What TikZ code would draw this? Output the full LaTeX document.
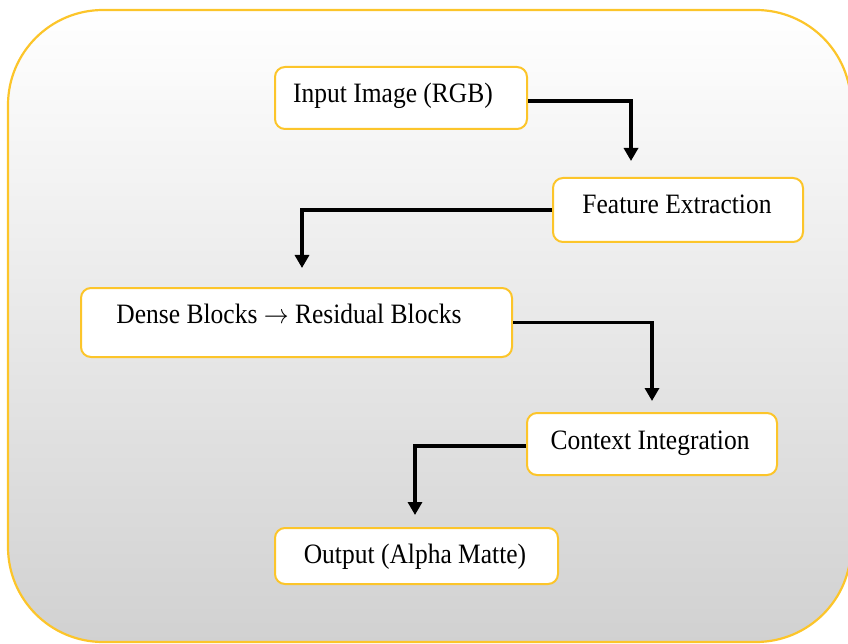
\documentclass[tikz,border=0pt]{standalone}
\usepackage{fontspec}
\setmainfont{Liberation Serif}
\usetikzlibrary{arrows.meta}
\definecolor{frameyellow}{HTML}{FCC52A}
\newcommand{\tallcap}[1]{\scalebox{1}[1.1]{#1}}
\begin{document}
\begin{tikzpicture}[x=1pt,y=-1pt,
  stage/.style={draw=frameyellow, line width=2pt, fill=white, rounded corners=10pt, inner sep=0pt},
  caption/.style={font=\fontsize{25.5}{30}\selectfont, anchor=base, inner sep=0pt},
  flow/.style={line width=3.2pt, -{Triangle[width=14pt,length=13pt]}}]
\useasboundingbox (0,0) rectangle (848,644);
% background panel
\shade[top color=white, bottom color=gray!36, draw=frameyellow, line width=2.2pt, rounded corners=95pt]
  (8,10) rectangle (851,642);
% stage boxes
\node[stage, minimum width=252, minimum height=62] (in) at (401,98) {};
\node[stage, minimum width=250, minimum height=64] (fe) at (678,210) {};
\node[stage, minimum width=431, minimum height=69] (de) at (296.5,322.5) {};
\node[stage, minimum width=250, minimum height=62] (ci) at (652,444) {};
\node[stage, minimum width=283, minimum height=56] (out) at (416.5,556) {};
% captions
\node[caption] (tin) at (393,103) {\tallcap{Input Image (RGB)}};
\node[caption] (tfe) at (677,214) {\tallcap{Feature Extraction}};
\node[caption] (tde) at (289,323) {\tallcap{Dense Blocks $\rightarrow$ Residual Blocks}};
\node[caption] (tci) at (650,449) {\tallcap{Context Integration}};
\node[caption] (tout) at (415,563) {\tallcap{Output (Alpha Matte)}};
% connectors
\coordinate (a1) at (631,161);
\coordinate (a2) at (302,268);
\coordinate (a3) at (652,401);
\coordinate (a4) at (415,515);
\draw[flow] ([yshift=-3pt]in.east) -| (a1);
\draw[flow] (fe.west) -| (a2);
\draw[flow] (de.east) -| (a3);
\draw[flow] ([yshift=-2pt]ci.west) -| (a4);
\end{tikzpicture}
\end{document}
